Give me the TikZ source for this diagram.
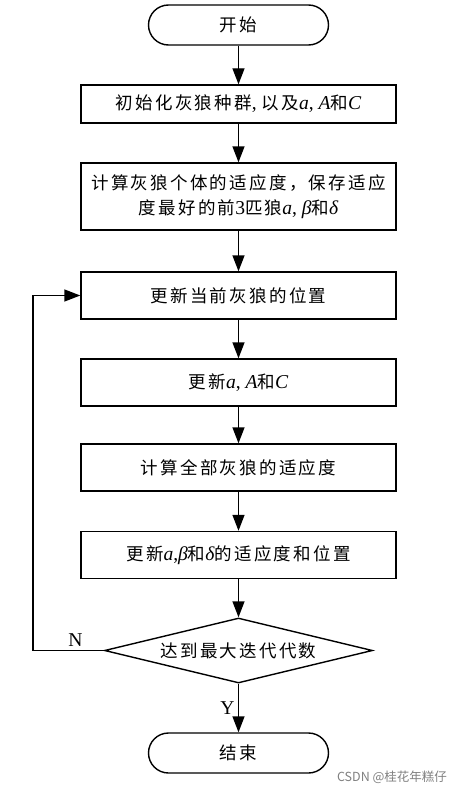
\documentclass[tikz,border=0pt]{standalone}
\usepackage{fontspec}
\setmainfont[LetterSpace=13]{Noto Sans CJK SC}
\newfontfamily\latin[Scale=1.12]{Liberation Serif}
\newfontfamily\wmfont{Noto Sans CJK SC}
\newcommand{\mv}[1]{{\latin\itshape #1}}
\usetikzlibrary{arrows.meta,shapes.geometric}

\tikzset{
  proc/.style={draw,line width=1.4pt,minimum width=315pt,inner sep=2pt,align=center},
  term/.style={draw,line width=1.4pt,minimum width=180pt,minimum height=40pt,rounded corners=20pt},
  judge/.style={draw,diamond,line width=1.4pt,minimum width=268pt,minimum height=65pt,aspect=4.1,inner sep=0pt},
  flow/.style={line width=1.4pt,->},
}

\begin{document}
\begin{tikzpicture}[x=1pt,y=-1pt,>={Triangle[length=16pt,width=12pt]},
    font=\fontsize{17.5}{25}\selectfont]
  \useasboundingbox (0,0) rectangle (469,792);

  \node[term] (start) at (238.5,25) {开始};
  \node[proc,minimum height=38pt] (init) at (238.5,104)
    {初始化灰狼种群{\latin, }以及\mv{a}{\latin, }\mv{A}和\mv{C}};
  \node[proc,minimum height=67pt] (fit) at (238.5,196.5)
    {计算灰狼个体的适应度，保存适应\\度最好的前{\latin 3}匹狼\mv{a}{\latin, }\mv{β}和\mv{δ}};
  \node[proc,minimum height=47pt] (upd) at (238.5,295.5) {更新当前灰狼的位置};
  \node[proc,minimum height=47pt] (coef) at (238.5,382.5)
    {更新\mv{a}{\latin, }\mv{A}和\mv{C}};
  \node[proc,minimum height=47pt] (all) at (238.5,467.5) {计算全部灰狼的适应度};
  \node[proc,minimum height=47pt] (best) at (238.5,555)
    {更新\mv{a}{\latin,}\mv{β}和\mv{δ}的适应度和位置};
  \node[judge] (dec) at (238.5,650.5) {达到最大迭代代数};
  \node[term] (stop) at (238.5,753) {结束};

  \draw[flow] (start) -- (init);
  \draw[flow] (init) -- (fit);
  \draw[flow] (fit) -- (upd);
  \draw[flow] (upd) -- (coef);
  \draw[flow] (coef) -- (all);
  \draw[flow] (all) -- (best);
  \draw[flow] (best) -- (dec);
  \draw[flow] (dec) -- node[left] (yes) {\latin Y} (stop);

  % back to the update step
  \coordinate (loop) at (33,650.5);
  \draw[flow] (dec.west) -- node[above,pos=0.4] (no) {\latin N} (loop) |- (upd.west);

  \node[gray,font=\wmfont\fontsize{12.5}{14}\selectfont] (mark) at (392,777) {CSDN @桂花年糕仔};
\end{tikzpicture}
\end{document}
